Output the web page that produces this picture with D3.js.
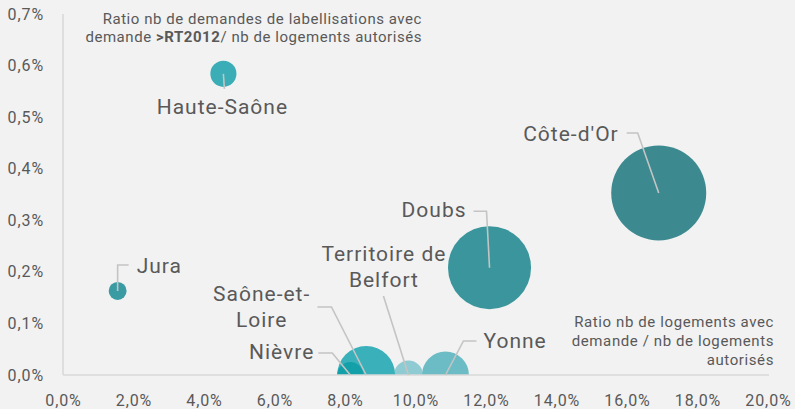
<!DOCTYPE html>
<html><head><meta charset="utf-8">
<script src="https://cdn.jsdelivr.net/npm/d3@7"></script>
<style>
html,body{margin:0;padding:0;background:#f2f2f2;}
svg{display:block;font-family:Roboto,"Noto Sans",sans-serif;}
</style></head>
<body>
<svg id="chart" width="795" height="409"></svg>
<script>
// ---- data ----
const departements = ["Côte-d'Or","Doubs","Haute-Saône","Jura","Territoire de Belfort","Yonne","Saône-et-Loire","Nièvre"];
const ratioLogements = [16.9, 12.1, 4.55, 1.55, 9.8, 10.85, 8.6, 8.15];      // % x
const ratioRT2012   = [0.353, 0.208, 0.584, 0.163, 0, 0, 0, 0];             // % y
const bubbleSize    = [2250, 1720, 170, 80, 210, 550, 840, 170];            // bubble area
const xTicks = [0,2,4,6,8,10,12,14,16,18,20];
const yTicks = [0,0.1,0.2,0.3,0.4,0.5,0.6,0.7];

// ---- layout / style (not data) ----
const colors = {"Côte-d'Or":"#3c8a90","Doubs":"#3a969c","Haute-Saône":"#3aadb6","Jura":"#3a9ba3",
  "Saône-et-Loire":"#3ab1ba","Nièvre":"#14a0a8","Territoire de Belfort":"#8ecbd2","Yonne":"#6bbcc4"};
const labelLayout = {
  "Côte-d'Or":{lines:["Côte-d'Or"],dx:-40,dy:-52,anchor:"end",path:[[-32,-60],[-21,-60],[0,0]]},
  "Doubs":{lines:["Doubs"],dx:-23,dy:-50.5,anchor:"end",path:[[-16,-56.5],[-3,-56.5],[0,0]]},
  "Haute-Saône":{lines:["Haute-Saône"],dx:-1,dy:40,anchor:"middle",path:[[1,15],[0,0]]},
  "Jura":{lines:["Jura"],dx:19,dy:-18,anchor:"start",path:[[11,-26],[0,-26],[0,0]]},
  "Saône-et-Loire":{lines:["Saône-et-","Loire"],dx:-104.5,dy:-74,anchor:"middle",path:[[-48.7,-68],[-34.7,-68],[0,0]]},
  "Nièvre":{lines:["Nièvre"],dx:-36,dy:-16,anchor:"end",path:[[-32,-22],[-18,-22],[0,0]]},
  "Territoire de Belfort":{lines:["Territoire de","Belfort"],dx:-24.5,dy:-114,anchor:"middle",path:[[-25,-79],[0,0]]},
  "Yonne":{lines:["Yonne"],dx:38,dy:-27,anchor:"start",path:[[31,-34],[18,-34],[0,0]]}
};

const svg = d3.select("#chart");
const mLeft = 63, mRight = 768, mTop = 14, mBottom = 375;
const x = d3.scaleLinear().domain([0,20]).range([mLeft,mRight]);
const y = d3.scaleLinear().domain([0,0.7]).range([mBottom,mTop]);
const r = d3.scaleSqrt().domain([0,2250]).range([0,47.5]);
const fmt = d => d.toFixed(1).replace(".",",") + "%";
const textColor = "#595959";

svg.append("defs").append("clipPath").attr("id","plot")
  .append("rect").attr("x",0).attr("y",0).attr("width",795).attr("height",mBottom);

const data = departements.map((n,i)=>({name:n,x:ratioLogements[i],y:ratioRT2012[i],s:bubbleSize[i]}));

// bubbles
svg.append("g").attr("clip-path","url(#plot)")
  .selectAll("circle").data(data).join("circle")
  .attr("cx",d=>x(d.x)).attr("cy",d=>y(d.y)).attr("r",d=>r(d.s))
  .attr("fill",d=>colors[d.name]);

// axes
const xAxis = d3.axisBottom(x).tickValues(xTicks).tickFormat(fmt).tickSize(0).tickPadding(20);
const yAxis = d3.axisLeft(y).tickValues(yTicks).tickFormat(fmt).tickSize(0).tickPadding(19);
const gx = svg.append("g").attr("transform",`translate(0,${mBottom})`).call(xAxis);
const gy = svg.append("g").attr("transform",`translate(${mLeft},0)`).call(yAxis);
[gx,gy].forEach(g=>{
  g.select(".domain").attr("stroke","#d9d9d9").attr("stroke-width",1.6);
  g.selectAll("text").attr("fill",textColor).style("font-size","16px").style("font-family","Roboto")
    .style("letter-spacing","0.9px");
});
gx.select(".domain").attr("d",`M${mLeft},0H769`);
gy.select(".domain").attr("d",`M0,${mBottom}V${mTop}`);

// leader lines and labels
const lab = svg.append("g");
data.forEach(d=>{
  const L = labelLayout[d.name];
  const cx = x(d.x), cy = y(d.y);
  lab.append("path")
    .attr("d", d3.line()(L.path.map(p=>[cx+p[0],cy+p[1]])))
    .attr("fill","none").attr("stroke","#c4c4c4").attr("stroke-width",1.6);
  const t = lab.append("text").attr("x",cx+L.dx).attr("y",cy+L.dy)
    .attr("text-anchor",L.anchor).attr("fill",textColor)
    .style("font-size","21px").style("letter-spacing","1px");
  L.lines.forEach((ln,i)=>t.append("tspan").attr("x",cx+L.dx).attr("dy",i?26:0).text(ln));
});

// axis titles
const yTitle = svg.append("text").attr("text-anchor","end").attr("fill",textColor)
  .style("font-size","15px").style("letter-spacing","0.55px");
yTitle.append("tspan").attr("x",422).attr("y",24).text("Ratio nb de demandes de labellisations avec");
const l2 = yTitle.append("tspan").attr("x",422).attr("y",42);
l2.append("tspan").text("demande ");
l2.append("tspan").attr("font-weight","bold").text(">RT2012");
l2.append("tspan").text("/ nb de logements autorisés");

const xTitle = svg.append("text").attr("text-anchor","end").attr("fill",textColor)
  .style("font-size","15px").style("letter-spacing","0.6px");
["Ratio nb de logements avec","demande / nb de logements","autorisés"].forEach((s,i)=>
  xTitle.append("tspan").attr("x",774).attr("y",327+i*19).text(s));
</script>
</body></html>
